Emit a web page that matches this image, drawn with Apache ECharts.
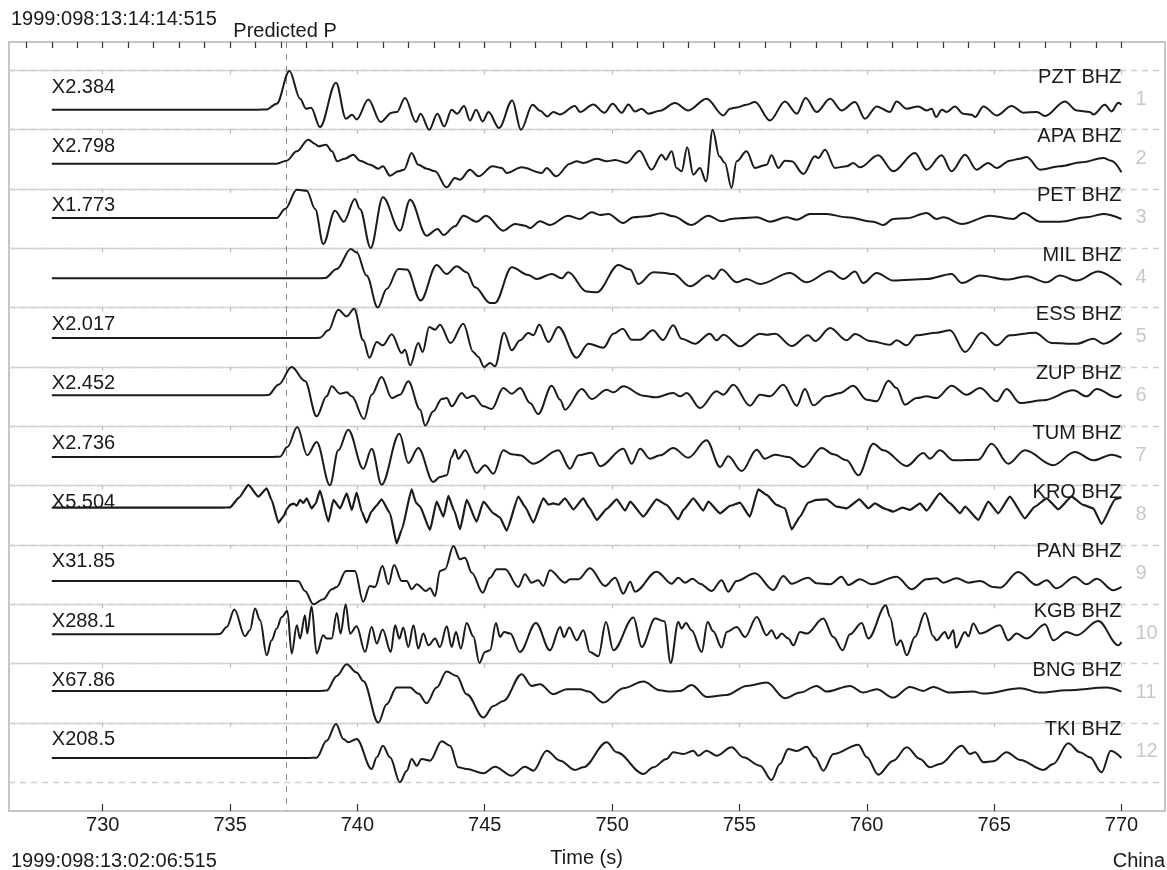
<!DOCTYPE html>
<html>
<head>
<meta charset="utf-8">
<script src="https://cdn.jsdelivr.net/npm/echarts@6/dist/echarts.min.js"></script>
<style>html,body{margin:0;padding:0;background:#fff}#c{width:1167px;height:870px}</style>
</head>
<body>
<div id="c"></div>
<script>
// ---------------- data ----------------
const startTimeLabel = '1999:098:13:14:14:515';
const refTimeLabel = '1999:098:13:02:06:515';
const regionLabel = 'China';
const xAxisName = 'Time (s)';
const predictedLabel = 'Predicted P';
const predictedP = 737.21;

const stations = ['PZT BHZ','APA BHZ','PET BHZ','MIL BHZ','ESS BHZ','ZUP BHZ','TUM BHZ','KRO BHZ','PAN BHZ','KGB BHZ','BNG BHZ','TKI BHZ'];
const gainLabels = ['X2.384','X2.798','X1.773','','X2.017','X2.452','X2.736','X5.504','X31.85','X288.1','X67.86','X208.5'];
// pre-event level of each trace, in amplitude units below the top of its band
const baseOffsets = [39.4, 34, 29, 30, 30.4, 28.4, 30.7, 22, 36, 30, 27.3, 35];
const bandSize = 59.33;

const xTickValues = [730, 735, 740, 745, 750, 755, 760, 765, 770];
const topTickValues = [727,728,729,730,731,732,733,734,735,736,737,738,739,740,741,742,743,744,745,746,747,748,749,750,751,752,753,754,755,756,757,758,759,760,761,762,763,764,765,766,767,768,769,770];

// [time (s), amplitude]
const pzt = [[728,0],[736.1,0],[736.44,0.3],[736.83,6],[737.33,38.7],[737.75,11],[737.98,1],[738.18,2],[738.53,-17.3],[739.16,27],[739.55,-9],[739.79,-5],[739.97,-9.7],[740.43,10.3],[740.91,-12.3],[741.35,-3],[741.55,-2.3],[741.87,11.7],[742.3,-12.3],[742.48,-4],[742.82,-20],[743.14,-4],[743.41,-16.7],[743.7,0],[743.92,-4],[744.19,3.7],[744.42,-10.7],[744.66,0],[744.92,-11.7],[745.15,-2.3],[745.56,-18.3],[746.08,9.3],[746.42,-20],[746.88,5],[747.17,-1],[747.46,-6.7],[747.69,-2.3],[747.95,-4.7],[748.54,3.7],[748.74,-2.3],[749.26,5.3],[749.7,-3],[750.02,6],[750.38,-3],[750.64,5.3],[750.9,-1.7],[751.16,1],[751.42,-4],[751.88,-1],[752.47,6.7],[752.99,-0.7],[753.71,11],[754.37,-5.7],[754.63,1],[754.89,2.3],[755.28,5],[755.61,7.7],[756.2,-10.7],[756.79,8.3],[757.25,-4],[757.6,11.7],[758.03,-2.3],[758.56,11],[759.01,-0.7],[759.54,7.7],[759.93,-9],[760.39,3.3],[760.91,-2.3],[761.17,8.3],[761.57,1],[762.02,3.3],[762.35,-0.7],[762.55,1],[762.72,-7.3],[762.95,0],[763.14,-2.3],[763.46,3.3],[763.79,-4],[764.12,-5],[764.25,-7.3],[764.58,3.3],[765.1,-5.7],[765.69,3.7],[766.15,-3],[766.68,-2.3],[767.0,-6.3],[767.78,8.3],[768.24,-0.7],[768.76,-2.3],[768.9,-4.7],[769.35,5],[769.61,-1.7],[769.88,7],[770,5]];
const apa = [[728,0],[736.5,0],[736.83,0],[737.22,3],[737.62,12.3],[738.07,24],[738.34,19.7],[738.47,17.3],[738.77,19],[739.0,12.3],[739.21,2.3],[739.51,5],[739.84,9],[740.1,3],[740.5,-1],[740.82,-5],[741.0,-2.7],[741.28,-12],[741.61,-7.7],[741.83,-6],[742.13,10.7],[742.39,-1],[742.72,-5],[743.05,-7.7],[743.5,-23.7],[743.83,-14.3],[744.03,-16],[744.42,-6],[744.75,-12.7],[745.31,-2.7],[745.67,-4.3],[745.86,-9.3],[746.45,-3.7],[747.24,-9.3],[747.43,-4.3],[747.8,-12.7],[748.35,0],[748.61,2.3],[748.87,0.7],[749.4,5],[749.79,2.3],[750.12,3.7],[750.57,0.7],[751.07,13],[751.55,-6],[751.95,9],[752.1,4],[752.34,12.3],[752.53,-4.3],[752.73,-7.7],[752.95,16.3],[753.19,-11],[753.45,-4.3],[753.69,-17.7],[753.95,34],[754.21,7.3],[754.43,0.7],[754.69,-24.3],[754.89,2.3],[755.28,12.3],[755.61,-4.3],[756.07,-1],[756.26,8.3],[756.53,-4.3],[756.79,3],[757.05,2.3],[757.51,-10.3],[757.97,7.3],[758.1,5.7],[758.36,14],[758.75,-4.3],[759.21,-2.7],[759.47,0.7],[759.73,-3.7],[760.45,8.3],[761.04,-7.7],[761.89,10.7],[762.35,-6],[762.94,8.3],[763.33,-7.7],[763.86,9],[764.31,-6],[764.77,0.7],[765.1,-4.3],[765.62,3],[766.02,5],[766.28,6.7],[766.8,-6],[767.58,-2.7],[768.44,1.3],[769.29,5.7],[769.6,3],[770,-8.7]];
const pet = [[728,0],[736.5,0],[736.83,0],[737.16,9],[737.62,28.3],[738.01,27.3],[738.34,9],[738.66,-26],[739.12,7.3],[739.47,-3.7],[739.9,19],[740.1,9],[740.52,-30],[741.0,20.7],[741.67,-12.7],[742.07,18.3],[742.72,-17.7],[743.15,-11],[743.38,-17],[743.83,-8.3],[744.16,2.3],[744.68,-3.7],[745.05,2.3],[745.73,-12.7],[746.19,-6],[746.58,-7.7],[746.78,-10],[747.17,-3.3],[747.56,-7],[748.28,2.3],[748.74,-1],[749.2,5.7],[749.53,3],[749.85,4],[750.44,-5],[750.84,0.7],[751.36,1.7],[751.95,4.7],[752.4,1.7],[753.12,-7],[753.78,2.3],[754.3,-3.3],[754.69,-1],[755.02,-0.3],[755.68,0.7],[756.2,-3.7],[756.85,0.7],[757.25,-1.7],[757.77,4],[758.42,4],[759.21,0.7],[760.26,-3.7],[760.65,-7],[761.04,-1],[761.57,-0.3],[762.35,5],[762.74,-1],[763.01,0.7],[763.73,-6],[764.84,2.3],[765.75,-1],[766.15,5],[766.8,-3.7],[767.59,-3.7],[768.63,0.7],[769.29,4],[770,-1]];
const mil = [[728,0],[738.4,0],[738.73,0.3],[739.19,9.3],[739.74,29.3],[739.97,26],[740.36,2.7],[740.8,-29.3],[741.15,-10.7],[741.61,9.3],[741.94,8.7],[742.48,-22.3],[743.11,13.3],[743.5,4.3],[743.9,12],[744.29,6],[744.62,-9],[745.21,-24.7],[745.4,-24.7],[746.06,11],[746.71,3.3],[747.04,-0.7],[747.63,4.3],[748.02,0],[748.28,6],[749.0,-13.3],[749.4,-14],[750.25,13.3],[750.71,8.7],[751.03,-5.7],[751.62,6],[752.0,5.5],[752.4,4.3],[753.06,-8],[753.78,2.7],[753.97,-0.7],[754.3,8.7],[754.89,-4],[755.28,-0.7],[755.81,-5.7],[756.98,5.3],[757.64,-4],[758.56,7],[759.08,-0.7],[759.54,6.7],[759.86,-4.7],[760.39,5.3],[761.04,-2.3],[762.35,-0.7],[763.33,4.3],[763.73,-4.7],[764.45,2.7],[765.49,-1.3],[766.28,2],[767.06,-4],[767.58,2.7],[768.24,-2.3],[769.09,6.7],[770,-6.7]];
const ess = [[728,0],[738.2,0],[738.53,0.3],[738.86,7.7],[739.25,28.3],[739.58,21.7],[739.87,29.3],[740.23,-2.3],[740.47,-19.7],[740.76,-4],[741.0,-7.3],[741.35,3.7],[741.74,-15],[741.87,-11.7],[742.07,-27.3],[742.39,-5],[742.56,-14],[742.82,11],[743.05,8.3],[743.24,13.3],[743.66,-5],[744.16,14.3],[744.55,-14],[744.75,-19],[744.97,-29],[745.21,-25],[745.4,-28.3],[745.76,5.3],[746.06,-12.3],[746.39,-2.3],[746.71,5],[746.91,2.7],[747.14,13.3],[747.5,-4],[747.89,11],[748.61,-19.7],[749.07,-5.7],[749.66,-9.7],[750.05,4.3],[750.42,9.3],[750.77,-1.7],[751.1,-1.7],[751.6,7.7],[752.0,-2],[752.4,12.7],[752.73,-0.7],[753.25,-5.7],[753.84,4.3],[754.1,-2.3],[754.37,3.3],[755.02,-8.3],[755.81,4.3],[756.07,3.3],[756.4,4.3],[757.05,-8],[757.7,2.7],[757.97,-3],[758.56,10],[759.21,-2.3],[759.54,4],[760.13,-3],[760.91,-6.7],[761.17,-2.3],[761.57,-7.3],[761.96,2.7],[762.74,5.3],[763.27,7.7],[763.86,-14],[764.51,5.3],[765.1,-7.3],[765.62,2.7],[766.6,5.3],[767.26,-5],[768.24,-5.7],[768.9,-0.7],[769.29,-5.7],[770,5.3]];
const zup = [[728,0],[736.2,0],[736.5,0.3],[736.9,10.7],[737.42,28.3],[737.94,14.3],[738.4,-21],[738.79,-1],[738.99,9],[739.32,1.7],[739.58,3],[739.78,-1],[740.26,-23.7],[740.56,0.7],[740.95,18.3],[741.35,-2.7],[741.67,0.7],[742.0,14],[742.46,-14.3],[742.66,-30.3],[742.98,-16],[743.31,-3.7],[743.51,-2.7],[743.7,-11],[744.1,2.3],[744.29,-2.7],[744.55,-0.3],[744.95,-11],[745.27,-13.7],[745.73,7.3],[746.06,1.7],[746.39,7.3],[746.78,-7.7],[747.1,-18.7],[747.63,9.7],[747.96,-4.3],[748.15,-14.3],[748.81,6.3],[749.2,-3.7],[749.79,5.7],[750.05,3],[750.44,9],[751.23,-0.3],[751.69,-2],[752.4,2.3],[752.67,-1],[752.93,2.3],[753.45,-12.7],[754.1,4],[754.37,0.7],[754.76,10.7],[755.41,-10.3],[755.81,0.7],[756.2,-1],[756.72,10.7],[757.25,-10.3],[757.57,6.3],[757.9,-10],[758.42,-1],[758.95,2.3],[759.47,9.7],[760.0,-4.3],[760.39,-6],[760.85,14.7],[761.17,7.3],[761.5,-9.3],[761.96,-2.7],[762.35,-1],[762.74,-2.7],[763.33,9.7],[763.92,0.7],[764.45,7.3],[765.1,-6],[765.49,6.3],[766.02,-7.7],[766.93,-5],[768.11,5],[768.63,-1],[769.03,6.3],[769.81,-2],[770,0.7]];
const tum = [[728,0],[736.7,0],[736.96,0.3],[737.25,10],[737.64,30],[738.03,1.7],[738.4,15],[738.92,-28.3],[739.25,6.7],[739.64,27.3],[740.23,-11.7],[740.56,8.3],[740.95,-27.7],[741.65,23.3],[742.0,-6],[742.39,9],[742.98,-25],[743.24,-20],[743.51,-18.3],[743.7,0],[743.83,7.3],[743.96,-1.7],[744.23,6.7],[744.68,-16],[745.01,-8.3],[745.34,-16.7],[745.73,6.7],[746.06,2.7],[746.39,1.7],[746.91,-6.7],[747.89,6.7],[748.35,-11.7],[748.68,1.7],[749.2,4.3],[749.53,-9.3],[750.44,8.3],[750.77,-6.7],[751.1,8.3],[751.49,-1.7],[751.88,1.7],[752.4,9],[752.99,-0.7],[753.71,16.7],[754.24,-10],[754.56,0.7],[755.09,-14],[755.68,7.3],[756.0,-1.7],[756.4,2.3],[756.92,0],[757.51,-10],[758.23,9],[758.69,2.7],[759.21,-3.3],[759.67,-18.3],[760.26,13.3],[760.65,6.7],[761.57,-9],[762.22,4],[762.48,-1.7],[762.87,6.7],[763.4,-3.3],[764.38,-2.7],[764.9,13.3],[765.56,-6.7],[766.21,6.7],[767.32,-8.3],[768.17,5],[768.9,-3.3],[769.62,2.3],[770,-0.7]];
const kro = [[728,0],[734.7,0],[735.0,0.3],[735.35,10],[735.72,22.7],[736.11,11],[736.44,19.3],[736.63,7.7],[736.9,-15],[737.09,-9],[737.25,-0.7],[737.37,3],[737.5,4],[737.62,2],[737.75,7.7],[737.88,4.7],[738.01,9.3],[738.2,-0.7],[738.36,4],[738.53,17],[738.86,-14],[739.06,7.7],[739.32,-0.7],[739.58,14.3],[739.78,-2.3],[739.97,15],[740.17,-4],[740.36,-15],[740.55,-4],[740.75,2],[740.95,8.3],[741.28,-5.7],[741.54,-35.7],[741.74,-22.3],[742.13,18.3],[742.3,5],[742.46,1],[742.85,-22.3],[743.11,6],[743.38,-9],[743.57,11.7],[743.8,-3],[744.03,-21.7],[744.29,7.7],[744.68,-14],[744.95,6],[745.34,-5.7],[745.6,-10],[745.86,-23],[746.32,11],[746.58,1],[746.91,-15],[747.3,9.3],[747.5,3],[747.69,4.3],[747.9,3],[748.15,9.3],[748.48,-1.7],[748.87,9.3],[749.1,0],[749.4,-12.3],[749.8,-1],[750.18,8.3],[750.51,-3],[750.71,6],[751.23,-9],[751.75,8.3],[752.14,2.7],[752.6,-11.7],[752.8,-2.3],[753.19,9.3],[753.58,-3],[753.78,6],[754.24,-5.7],[754.63,1.7],[755.02,5],[755.41,-9],[755.74,18.3],[756.07,12.7],[756.46,2.7],[756.79,-0.7],[757.05,-21.7],[757.38,-9],[757.7,5],[758.03,7.7],[758.42,8.3],[758.82,1],[759.21,-0.7],[759.71,8.3],[760.06,-0.7],[760.32,4.3],[760.7,-1],[761.04,-4],[761.4,0],[761.7,-2.3],[762.09,4.3],[762.35,-3],[762.87,14.3],[763.27,4.3],[763.66,-5.7],[763.86,1],[764.38,-12.3],[764.77,6],[765.16,-5.7],[765.62,11],[766.21,-10.7],[766.6,1],[767.06,9.3],[767.52,-1.7],[768.04,11],[768.5,2.7],[768.89,-0.7],[769.22,-16.3],[769.75,8.3],[770,10.3]];
const pan = [[728,0],[737.4,0],[737.68,-0.3],[737.94,-10],[738.27,-23.3],[738.66,-18.3],[739.0,-8.3],[739.19,-6],[739.55,10],[739.9,10],[740.23,-20.7],[740.49,-5],[740.69,-6],[740.98,15],[741.22,-3.3],[741.44,16],[741.74,0],[741.94,0],[742.13,-8.3],[742.33,-3.3],[742.69,-10],[742.85,-7.3],[743.05,-15],[743.24,10],[743.44,11.7],[743.77,35],[744.03,21.7],[744.22,23.3],[744.49,8.3],[744.92,-11.7],[745.21,3.3],[745.47,11.7],[745.8,11.7],[746.32,-6],[746.58,6.7],[746.84,-1.7],[747.1,0.7],[747.3,-5],[747.56,10.7],[748.15,-1.7],[748.35,1.7],[748.68,1.7],[749.13,12.7],[749.72,-5],[750.12,3.3],[750.44,-12.7],[750.71,-0.7],[750.9,-10.7],[751.75,9.3],[752.34,-2.7],[752.6,3.3],[752.86,-1.7],[753.16,2.3],[753.45,-2.7],[753.91,-10],[754.3,0.7],[754.56,-10.7],[754.89,0],[755.61,7.7],[756.33,-9],[756.72,5],[757.05,-2.7],[757.7,3.3],[758.03,-2.3],[758.56,-3.3],[759.01,4.3],[759.28,-4],[759.73,1.7],[760.19,-3.3],[761.17,4.3],[761.76,-8.3],[762.35,1.7],[762.74,2.7],[763.01,-1.7],[763.53,2.7],[763.99,-1.7],[764.45,0],[764.97,-6],[765.23,-6.7],[765.95,9],[766.67,-4],[767.06,0.7],[767.45,-7.3],[768.17,4],[768.63,-3.3],[769.03,2.3],[769.68,-9.3],[770,-6]];
const kgb = [[728,0],[734.3,0],[734.6,0.3],[734.87,7.3],[735.17,24.7],[735.59,-2],[735.78,4],[735.98,25.7],[736.18,14],[736.44,-21],[736.63,-6],[736.83,5.7],[737.03,17.3],[737.25,23.3],[737.42,-19.3],[737.62,9],[737.75,-4.3],[737.94,19],[738.03,0.7],[738.2,28],[738.4,-19.3],[738.66,-1],[738.79,-4.3],[738.99,-4.3],[739.19,21.3],[739.34,0.7],[739.54,30],[739.71,0.7],[739.97,8],[740.3,-17.7],[740.56,7.3],[740.76,-9.3],[740.99,4.7],[741.31,-17.7],[741.48,9],[741.65,-4.3],[741.8,6.7],[742.0,-12.7],[742.2,9],[742.39,-14.3],[742.59,0.7],[742.79,-11],[743.05,-4.3],[743.24,-12.7],[743.51,8],[743.7,-12.7],[743.87,2.3],[744.06,-14.3],[744.29,11.3],[744.55,-2],[744.79,-28.7],[745.01,-17.7],[745.21,-16],[745.44,11.3],[745.6,-2.7],[745.76,2.3],[746.0,0.7],[746.38,-17.7],[747.01,11.3],[747.56,-16],[747.96,7.3],[748.11,-2.7],[748.32,6.7],[748.61,-6],[748.87,4],[749.13,-17.7],[749.46,-22],[749.76,12.3],[750.05,-16],[750.84,16.7],[751.16,-12.7],[751.69,15.7],[752.05,13],[752.3,-28.7],[752.6,12.3],[752.73,5.7],[752.9,11.3],[753.12,4],[753.52,-17.7],[753.75,12.3],[753.97,3],[754.3,-13.3],[754.5,2.3],[754.89,7.3],[755.22,-2.7],[755.68,17.3],[756.07,-1],[756.26,4],[756.46,-4.3],[756.66,0.7],[756.92,-4.3],[757.12,-11],[757.38,2.3],[757.64,0.7],[758.29,15.7],[758.69,-2.7],[759.05,-16],[759.34,0],[759.8,11.3],[760.06,-4.3],[760.75,29],[760.91,17.3],[761.17,-11],[761.33,-6],[761.57,-21],[761.89,-2.7],[762.29,21.3],[762.61,-2],[762.74,-6],[763.07,2.3],[763.2,-4.3],[763.4,4],[763.5,-13.3],[763.86,2.3],[763.99,-2],[764.18,10.7],[764.45,0.7],[765.23,9],[765.56,-6],[765.88,0.7],[766.28,-4.3],[767.0,10],[767.32,-6],[767.85,2.3],[768.24,-1],[769.09,13.3],[769.88,-11],[770,-7.7]];
const bng = [[728,0],[738.5,0],[738.79,0.3],[739.19,15],[739.58,26.7],[739.97,18.3],[740.23,10],[740.82,-31.7],[741.15,-13.3],[741.54,3.3],[742.07,3.3],[742.39,-2.7],[742.72,-12.3],[743.11,3.3],[743.5,19.3],[743.9,15],[744.29,-3.3],[744.95,-26.7],[745.34,-15],[745.73,-10],[746.45,16.7],[746.84,5],[747.17,6.7],[747.69,-3.3],[748.22,1.7],[748.74,1.7],[749.07,-0.7],[749.66,-11.7],[750.44,2.7],[751.23,9.3],[751.88,0.7],[752.27,-0.7],[752.67,0],[753.12,6],[753.71,-6],[754.5,-4],[755.28,5],[756.07,8.3],[756.79,-7.3],[757.38,-1.7],[758.03,5],[758.42,-0.7],[759.34,5],[759.86,-1.7],[760.39,1.7],[761.04,-6.7],[761.7,4],[762.22,0],[762.61,4],[763.27,-1.7],[764.18,-0.7],[764.58,-2.7],[766.02,2.7],[766.8,-1.7],[767.85,0.7],[769.42,3.3],[770,-0.7]];
const tki = [[728,0],[738.1,0],[738.4,0.3],[738.79,17.3],[739.16,34],[739.45,19],[739.64,15.7],[739.97,19],[740.56,-11],[740.76,0.7],[741.0,12.3],[741.28,0.7],[741.67,-24.3],[741.94,-12.7],[742.13,-1],[742.33,-7.7],[742.52,-1],[742.85,-2.7],[743.31,16.7],[743.64,12.3],[743.96,-9.3],[744.29,-11],[744.95,-15.3],[745.4,-8.7],[746.06,-17.7],[746.58,-8.7],[746.91,-12.7],[747.43,7.3],[747.96,-2.7],[748.54,-12],[748.87,-9.3],[749.79,15.7],[750.18,5.7],[751.23,-16],[751.62,-9.3],[752.14,-1],[752.4,5.7],[752.8,4],[753.19,7.3],[753.38,2.3],[753.71,7.3],[754.1,2.3],[754.69,10.7],[755.15,0.7],[755.81,-7.7],[756.26,-22],[756.59,-6],[756.92,9],[757.25,7],[757.64,11.3],[757.97,0.7],[758.29,-12.7],[758.69,4],[759.67,13.3],[760.0,0.7],[760.45,-16.7],[761.04,-2.7],[761.57,10.7],[762.09,-1],[762.48,-9.3],[762.87,-6],[763.73,12.3],[764.05,4],[764.25,5.7],[764.58,-4.3],[764.97,-3.3],[765.49,5.7],[766.02,-2],[766.93,-12],[767.32,-6],[767.91,14.7],[768.37,5.7],[768.76,0.7],[769.22,-14.3],[769.58,7.3],[770,0]];

const traces = [pzt, apa, pet, mil, ess, zup, tum, kro, pan, kgb, bng, tki];
// traces recorded with visible high-frequency noise
const noisyTraces = ['KRO BHZ'];

// ---------------- chart ----------------
const FONT = "'Liberation Sans', Arial, Helvetica, sans-serif";
const X_MIN = 726.32, X_MAX = 771.71;
const Y_MIN = -0.477, Y_MAX = 12.484;
const nTr = traces.length;

const chart = echarts.init(document.getElementById('c'));

const traceSeries = traces.map((tr, i) => {
  const noisy = noisyTraces.indexOf(stations[i]) >= 0;
  return {
    type: 'line',
    name: stations[i],
    data: tr.map(([t, a]) => [t, i + (baseOffsets[i] - a) / bandSize]),
    smooth: noisy ? 0.15 : 0.35,
    smoothMonotone: 'x',
    showSymbol: false,
    symbol: 'none',
    silent: true,
    z: 5,
    lineStyle: {color: '#1b1b1b', width: noisy ? 2.2 : 2, join: 'round'}
  };
});

// all reference lines and tick marks are drawn as markLine segments
const pxToUnits = px => px / bandSize;   // one band = bandSize pixels on this axis
const seg = (x1, y1, x2, y2, style) => [
  {coord: [x1, y1], lineStyle: style},
  {coord: [x2, y2], lineStyle: style}
];
const refLines = [];
for (let k = 0; k <= nTr; k++) {
  refLines.push({yAxis: k, lineStyle: {type: [6, 5], color: '#cfcfcf', width: 1.4}});
}
const solidSep = {type: 'solid', color: '#d2d2d2', width: 1.4};
for (let k = 0; k < nTr; k++) {
  refLines.push(seg(X_MIN, k, xTickValues[xTickValues.length - 1], k, solidSep));
}
const sepTickStyle = {type: 'solid', color: '#bdbdbd', width: 1.2};
for (let k = 0; k < nTr; k++) {
  xTickValues.forEach(t => refLines.push(seg(t, k, t, k + pxToUnits(4), sepTickStyle)));
}
const frameTickStyle = {type: 'solid', color: '#333333', width: 1.2};
topTickValues.forEach(t => refLines.push(seg(t, Y_MIN, t, Y_MIN + pxToUnits(6), frameTickStyle)));
xTickValues.forEach(t => refLines.push(seg(t, Y_MAX, t, Y_MAX - pxToUnits(7), frameTickStyle)));
refLines.push({xAxis: predictedP, lineStyle: {type: [6, 6], color: '#8a8a8a', width: 1}});

const option = {
  animation: false,
  backgroundColor: '#ffffff',
  textStyle: {fontFamily: FONT},
  grid: {left: 9, right: 2, top: 42, bottom: 59, show: true, borderColor: '#c6c6c6', borderWidth: 2},
  xAxis: {
    type: 'value', min: X_MIN, max: X_MAX, position: 'bottom',
    axisLine: {show: false}, splitLine: {show: false},
    axisTick: {show: false},
    axisLabel: {show: true, customValues: xTickValues, margin: 4, fontSize: 20, color: '#1a1a1a', fontFamily: FONT, formatter: v => String(Math.round(v))}
  },
  yAxis: {type: 'value', min: Y_MIN, max: Y_MAX, inverse: true, show: false, splitLine: {show: false}},
  series: [
    {type: 'line', data: [], silent: true, z: 3,
     markLine: {silent: true, symbol: ['none', 'none'], label: {show: false}, animation: false, data: refLines}}
  ].concat(traceSeries)
};
chart.setOption(option);

// text annotations positioned through the axes
const px = (t, y) => chart.convertToPixel({xAxisIndex: 0, yAxisIndex: 0}, [t, y]);
const graphics = [];
const txt = (text, x, y, align, fill, size) => ({
  type: 'text', silent: true, z: 10,
  style: {text, x, y, align, verticalAlign: 'middle', fill: fill || '#1a1a1a', font: (size || 20) + 'px ' + FONT}
});
graphics.push(txt(startTimeLabel, 11, 19, 'left'));
graphics.push(txt(predictedLabel, px(predictedP, 0)[0] - 53, 31, 'left'));
graphics.push(txt(refTimeLabel, 11, 861, 'left'));
graphics.push(txt(xAxisName, px(749, 0)[0], 858, 'center'));
graphics.push(txt(regionLabel, 1165, 861, 'right'));
for (let i = 0; i < nTr; i++) {
  const top = px(770, i)[1];
  graphics.push(txt(stations[i], px(770, i)[0], top + 7, 'right'));
  if (gainLabels[i]) graphics.push(txt(gainLabels[i], px(728, i)[0], top + 17, 'left'));
  graphics.push(txt(String(i + 1), 1135.5, top + 29, 'left', '#c8c8c8'));
}
chart.setOption({graphic: graphics});
</script>
</body>
</html>
